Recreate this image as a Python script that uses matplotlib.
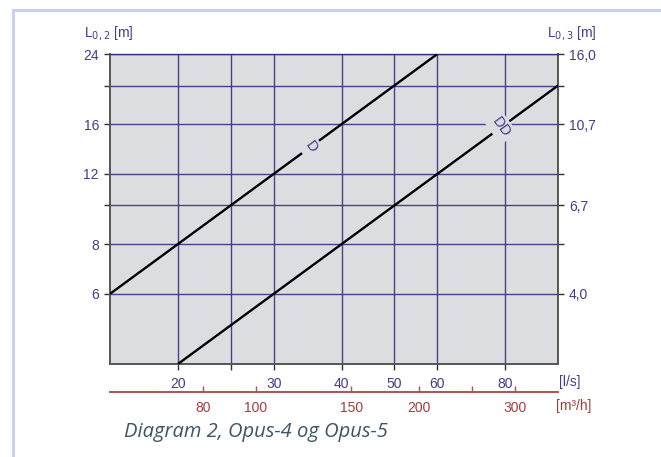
import numpy as np
import matplotlib as mpl
mpl.use('Agg')
import matplotlib.pyplot as plt
from matplotlib.lines import Line2D

# flow [l/s] vs length [m], log-log
q_d = [15, 60]
l_d = [6, 24]
q_dd = [20, 100]
l_dd = [4, 20]

x_ticks = [20, 25, 30, 40, 50, 60, 80]
x_labels = ['20', '', '30', '40', '50', '60', '80']
m3h_ticks = [80, 100, 150, 200, 250, 300]
m3h_labels = ['80', '100', '150', '200', '', '300']
y_ticks = [6, 8, 10, 12, 16, 20, 24]
y_labels = ['6', '8', '', '12', '16', '', '24']
y2_labels = ['4,0', '', '6,7', '', '10,7', '', '16,0']

navy = '#403d8e'
grid_c = '#36317f'
red = '#a23c3c'
bg = '#dcdde0'
fs = 10

plt.rcParams['font.family'] = ['Liberation Sans', 'DejaVu Sans']

W, H = 661, 457
fig = plt.figure(figsize=(W / 100, H / 100), dpi=100)
ax = fig.add_axes([110 / W, (H - 364) / H, 448 / W, 310 / H])
ax.set_facecolor(bg)
ax.set_xscale('log')
ax.set_yscale('log')
ax.set_xlim(15, 100)
ax.set_ylim(4, 24)

ax.plot(q_d, l_d, color='black', lw=1.7, zorder=3, solid_capstyle='butt')
ax.plot(q_dd, l_dd, color='black', lw=1.7, zorder=3, solid_capstyle='butt')

ax.xaxis.set_minor_locator(mpl.ticker.NullLocator())
ax.yaxis.set_minor_locator(mpl.ticker.NullLocator())
ax.set_xticks(x_ticks)
ax.set_xticklabels(x_labels)
ax.set_yticks(y_ticks)
ax.set_yticklabels(y_labels)
ax.grid(True, color=grid_c, lw=1.0, alpha=0.9, zorder=1)
ax.set_axisbelow(True)
ax.tick_params(axis='both', colors='#333333', labelcolor=navy, labelsize=fs,
               length=4, width=1.0)
ax.tick_params(axis='x', pad=5.5)
ax.tick_params(axis='y', pad=4, right=True)

for s in ['left', 'right', 'bottom']:
    ax.spines[s].set_color('#555555')
    ax.spines[s].set_linewidth(1.4)
ax.spines['top'].set_color(grid_c)
ax.spines['top'].set_linewidth(1.0)

# right axis L_0,3 = 2/3 * L_0,2
ay = ax.twinx()
ay.set_yscale('log')
ay.set_ylim(4, 24)
ay.yaxis.set_minor_locator(mpl.ticker.NullLocator())
ay.set_yticks(y_ticks)
ay.set_yticklabels(y2_labels)
ay.tick_params(axis='y', colors='#333333', labelcolor=navy, labelsize=fs,
               length=4, width=1.0, pad=4)
for s in ay.spines.values():
    s.set_visible(False)

# curve labels, gaps in the lines
box = dict(facecolor=bg, edgecolor='none', pad=2.5)
ax.text(35.1, 14.0, 'D', rotation=-54, color=navy, fontsize=10.5,
        ha='center', va='center', bbox=box, zorder=4)
ax.text(78.5, 15.7, 'DD', rotation=-54, color=navy, fontsize=10.5,
        ha='center', va='center', bbox=box, zorder=4)

# secondary flow axis in m3/h
sec = ax.secondary_xaxis(-28 / 310, functions=(lambda q: q * 3.6, lambda m: m / 3.6))
sec.set_xticks(m3h_ticks)
sec.set_xticklabels(m3h_labels)
sec.xaxis.set_minor_locator(mpl.ticker.NullLocator())
sec.spines['bottom'].set_color('#b35050')
sec.spines['bottom'].set_linewidth(1.4)
sec.tick_params(axis='x', direction='in', colors='#b35050', labelcolor=red,
                labelsize=fs, length=4, width=1.0, pad=6.5)

# units
fig.text(84 / W, 1 - 33 / H, r'L$_{0,2}$ [m]', color=navy, fontsize=fs, va='center')
fig.text(547 / W, 1 - 33 / H, r'L$_{0,3}$ [m]', color=navy, fontsize=fs, va='center')
fig.text(559 / W, 1 - 382 / H, '[l/s]', color=navy, fontsize=fs, va='center')
fig.text(556 / W, 1 - 406 / H, '[m³/h]', color=red, fontsize=fs, va='center')

fig.text(124 / W, 1 - 432 / H, 'Diagram 2, Opus-4 og Opus-5', color='#3d5566',
         fontsize=14.5, style='italic', family='Open Sans', va='center')

# frame around figure
fig.add_artist(Line2D([13 / W, 13 / W], [0, 1 - 10 / H], color='#c9d1ee', lw=2.2))
fig.add_artist(Line2D([13 / W, 1], [1 - 10 / H, 1 - 10 / H], color='#c9d1ee', lw=2.2))

fig.savefig('out.png', dpi=100)
